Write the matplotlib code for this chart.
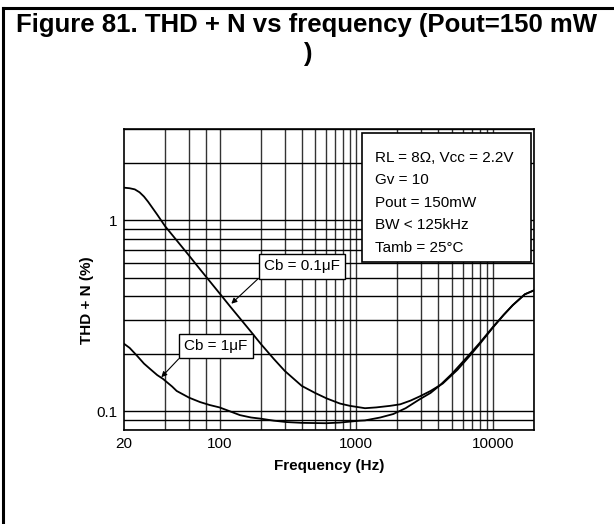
"""
THD + N vs frequency chart (Pout = 150 mW), log-log with full grid.
"""
import matplotlib
matplotlib.use("Agg")
import matplotlib.pyplot as plt
from matplotlib.lines import Line2D
from matplotlib.patches import Rectangle

plt.rcParams['font.family'] = ['Liberation Sans', 'DejaVu Sans']

# Cb = 0.1uF curve (frequency Hz, THD+N %)
freq_01 = [20, 22, 24, 26, 28, 30, 35, 40, 50, 60, 70, 80, 100, 120, 141, 170,
           200, 250, 300, 400, 500, 608, 761, 900, 1065, 1160, 1400, 1770, 2100,
           2500, 2925, 3500, 4300, 5500, 6800, 8000, 10070, 12000, 14000, 17150,
           20000]
thd_01 = [1.48, 1.47, 1.45, 1.40, 1.33, 1.25, 1.07, 0.93, 0.765, 0.652, 0.568,
          0.505, 0.415, 0.353, 0.307, 0.261, 0.226, 0.188, 0.163, 0.136, 0.125,
          0.117, 0.110, 0.107, 0.105, 0.104, 0.105, 0.107, 0.109, 0.114, 0.12,
          0.128, 0.14, 0.165, 0.196, 0.225, 0.276, 0.32, 0.36, 0.41, 0.43]

# Cb = 1uF curve
freq_1 = [20, 22, 25, 28, 31, 35, 38.6, 45, 48.6, 60, 72, 85, 100, 120, 141,
          170, 200, 250, 310, 400, 600, 760, 900, 1065, 1160, 1500, 1870, 2300,
          2925, 3500, 4100, 5000, 6800, 8000, 10070, 12000, 14000, 17150, 20000]
thd_1 = [0.226, 0.215, 0.195, 0.178, 0.167, 0.155, 0.148, 0.135, 0.128, 0.118,
         0.112, 0.108, 0.105, 0.1, 0.0957, 0.093, 0.0917, 0.0895, 0.088, 0.0872,
         0.0868, 0.0875, 0.0885, 0.0895, 0.0898, 0.093, 0.097, 0.104, 0.116,
         0.125, 0.137, 0.157, 0.2, 0.228, 0.278, 0.32, 0.36, 0.41, 0.43]

x_ticks = [20, 100, 1000, 10000]
y_ticks = [0.1, 1]

# vertical grid positions (the first decade only has 40, 60, 80)
x_grid = [40, 60, 80, 100] + [m * d for d in (100, 1000) for m in range(2, 11)] + [20000]
y_grid = [m / 100 for m in (8, 9, 10)] + [m / 10 for m in range(2, 11)] + [2, 3]

conditions = ["RL = 8\u03a9, Vcc = 2.2V", "Gv = 10", "Pout = 150mW",
              "BW < 125kHz", "Tamb = 25\u00b0C"]

fig = plt.figure(figsize=(6.14, 5.24), dpi=100)

# frame lines (left and top)
fig.add_artist(Line2D([0.0045, 0.0045], [0, 0.985], color='black', lw=2.2,
                      transform=fig.transFigure))
fig.add_artist(Line2D([0.0045, 1], [0.985, 0.985], color='black', lw=2.2,
                      transform=fig.transFigure))

fig.text(0.5, 1 - 25 / 524, "Figure 81. THD + N vs frequency (Pout=150 mW",
         ha='center', va='center', fontsize=18.5, fontweight='bold')
fig.text(0.5, 1 - 54 / 524, ")", ha='center', va='center', fontsize=18.5,
         fontweight='bold')

ax = fig.add_axes([124 / 614, 1 - 430 / 524, 410 / 614, 301 / 524])
ax.set_xscale('log')
ax.set_yscale('log')
ax.set_xlim(20, 20000)
ax.set_ylim(0.08, 3)

for xv in x_grid:
    ax.axvline(xv, color='#333333', lw=1.0, zorder=1)
for yv in y_grid:
    ax.axhline(yv, color='black', lw=1.0, zorder=1)

ax.plot(freq_01, thd_01, color='black', lw=1.3, zorder=3)
ax.plot(freq_1, thd_1, color='black', lw=1.3, zorder=3)

ax.set_xticks(x_ticks)
ax.set_xticklabels([str(v) for v in x_ticks])
ax.set_yticks(y_ticks)
ax.set_yticklabels(["0.1", "1"])
ax.minorticks_off()
ax.tick_params(length=0, labelsize=11, pad=5)
for s in ax.spines.values():
    s.set_linewidth(1.2)

ax.set_xlabel("Frequency (Hz)", fontsize=11, fontweight='bold', labelpad=6)
ax.set_ylabel("THD + N (%)", fontsize=11, fontweight='bold')
ax.yaxis.set_label_coords(-0.072, 0.43)

box = dict(boxstyle='square,pad=0.35', fc='white', ec='black', lw=1)
ax.annotate("Cb = 0.1\u03bcF", xy=(122, 0.366), xytext=(400, 0.574),
            ha='center', va='center', fontsize=11, bbox=box, zorder=5,
            arrowprops=dict(arrowstyle='-|>', color='black', lw=0.8,
                            mutation_scale=8, shrinkA=0, shrinkB=0,
                            relpos=(0, 0)))
ax.annotate("Cb = 1\u03bcF", xy=(37.5, 0.151), xytext=(94, 0.22),
            ha='center', va='center', fontsize=11, bbox=box, zorder=5,
            arrowprops=dict(arrowstyle='-|>', color='black', lw=0.8,
                            mutation_scale=8, shrinkA=0, shrinkB=0,
                            relpos=(0, 0)))

# conditions box
ax.add_patch(Rectangle((0.580, 0.558), 0.413, 0.429, transform=ax.transAxes,
                       fc='white', ec='black', lw=1.2, zorder=5))
for i, line in enumerate(conditions):
    ax.text(0.612, 0.904 - i * 22.5 / 301, line, transform=ax.transAxes,
            ha='left', va='center', fontsize=11, zorder=6)

fig.savefig("out.png", dpi=100)
